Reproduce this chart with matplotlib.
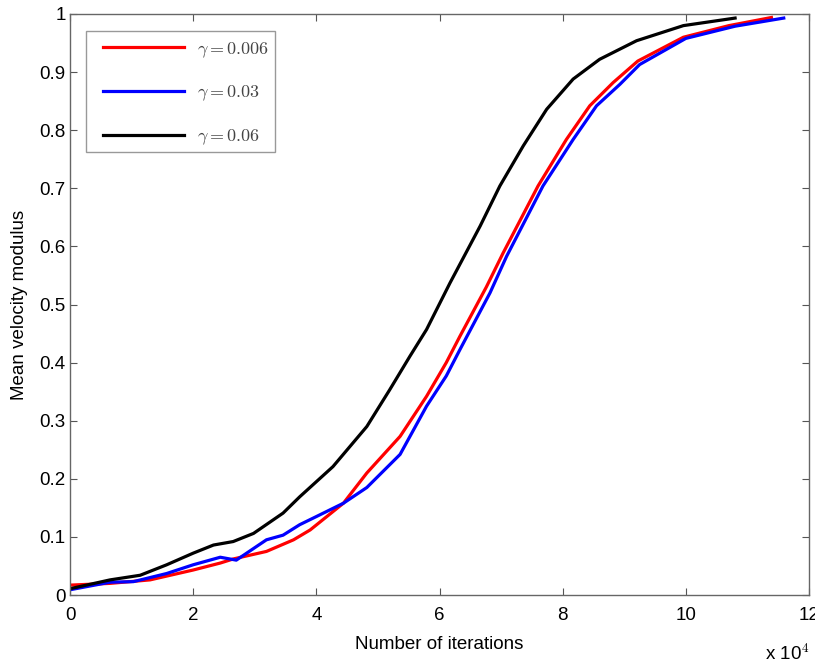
import matplotlib
matplotlib.use('Agg')
import matplotlib.pyplot as plt
from matplotlib.patches import Rectangle

plt.rcParams['font.family'] = ['Liberation Sans', 'DejaVu Sans']
plt.rcParams['mathtext.fontset'] = 'cm'

# 曲线数据 (x 单位: 1e4 次迭代)
x_red = [0.0, 0.65, 1.3, 2.0, 2.44, 2.65, 3.19, 3.63, 3.9, 4.44, 4.82, 5.36, 5.79, 6.11, 6.33, 6.76,
         7.03, 7.6, 8.06, 8.44, 8.82, 9.22, 9.96, 10.7, 11.39]
y_red = [0.017, 0.02, 0.026, 0.043, 0.055, 0.062, 0.075, 0.095, 0.112, 0.158, 0.21, 0.273, 0.342, 0.40, 0.445, 0.530,
         0.588, 0.704, 0.784, 0.842, 0.882, 0.919, 0.96, 0.98, 0.994]

x_blue = [0.0, 0.65, 1.03, 1.57, 2.0, 2.44, 2.7, 3.19, 3.46, 3.73, 4.0, 4.44, 4.82, 5.36, 5.79, 6.11, 6.33,
          6.82, 7.09, 7.68, 8.17, 8.55, 8.93, 9.25, 10.0, 10.8, 11.59]
y_blue = [0.009, 0.022, 0.023, 0.037, 0.052, 0.065, 0.06, 0.095, 0.103, 0.121, 0.135, 0.158, 0.185, 0.242, 0.325,
          0.377, 0.422, 0.52, 0.583, 0.704, 0.784, 0.842, 0.879, 0.913, 0.958, 0.979, 0.993]

x_black = [0.03, 0.65, 1.14, 1.57, 2.0, 2.33, 2.65, 2.98, 3.46, 3.73, 4.27, 4.82, 5.19, 5.52, 5.79,
           6.17, 6.66, 6.98, 7.36, 7.74, 8.17, 8.6, 9.2, 9.96, 10.8]
y_black = [0.0115, 0.026, 0.034, 0.052, 0.072, 0.086, 0.092, 0.106, 0.141, 0.169, 0.221, 0.29, 0.353, 0.411, 0.457,
           0.537, 0.635, 0.704, 0.773, 0.836, 0.888, 0.922, 0.954, 0.98, 0.993]

labels = [r'$\gamma = 0.006$', r'$\gamma = 0.03$', r'$\gamma = 0.06$']
x_ticks = [0, 2, 4, 6, 8, 10, 12]
y_ticks = [0, 0.1, 0.2, 0.3, 0.4, 0.5, 0.6, 0.7, 0.8, 0.9, 1]

fig = plt.figure(figsize=(8.15, 6.69), dpi=100)
ax = fig.add_axes([70 / 815, 74 / 669, 739 / 815, 581 / 669])

ax.plot(x_red, y_red, color='#ff0000', lw=2.3, label=labels[0])
ax.plot(x_blue, y_blue, color='#0000ff', lw=2.3, label=labels[1])
ax.plot(x_black, y_black, color='black', lw=2.3, label=labels[2])

ax.set_xlim(0, 12)
ax.set_ylim(0, 1)
ax.set_xticks(x_ticks)
ax.set_xticklabels([str(t) for t in x_ticks])
ax.set_yticks(y_ticks)
ax.set_yticklabels(['0'] + ['%.1f' % t for t in y_ticks[1:-1]] + ['1'])
ax.tick_params(direction='in', length=5, width=0.8, top=True, right=True,
               labelsize=13.5, colors='#555555', labelcolor='black')
ax.tick_params(axis='x', pad=9)
ax.tick_params(axis='y', pad=3)
for s in ax.spines.values():
    s.set_color('#666666')
    s.set_linewidth(1.0)

ax.set_xlabel('Number of iterations', fontsize=13.5, labelpad=8)
ax.set_ylabel('Mean velocity modulus', fontsize=13.5, labelpad=8)
fig.text(765 / 815, 5 / 669, r'x 10$^{\mathsf{4}}$', fontsize=13.5, ha='left', va='bottom')

# 图例框
ax.add_patch(Rectangle((16 / 739, (595 - 152) / 581), 189 / 739, 121 / 581, transform=ax.transAxes,
                       facecolor='white', edgecolor='#999999', lw=1.0, zorder=4))
leg = ax.legend(loc='upper left', bbox_to_anchor=(33 / 739, (595 - 40) / 581), fontsize=13,
                handlelength=4.5, handletextpad=0.7, labelspacing=1.34, borderpad=0,
                borderaxespad=0, frameon=False)
leg.set_zorder(5)
for t in leg.get_texts():
    t.set_color('#444444')

fig.savefig('out.png', dpi=100)
